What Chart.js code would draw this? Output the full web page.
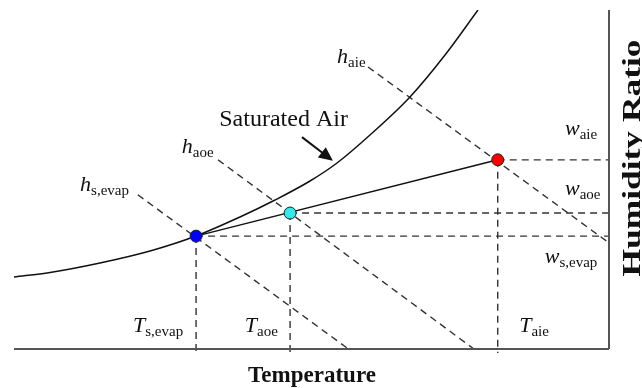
<!DOCTYPE html>
<html>
<head>
<meta charset="utf-8">
<script src="https://cdn.jsdelivr.net/npm/chart.js@4"></script>
<style>
    body { margin: 0; background: #fff; }
    canvas { display: block; }
</style>
</head>
<body>
<canvas id="psychro" width="642" height="388"></canvas>
<script>
// Psychrometric sketch: saturation curve, states, enthalpy lines

// Saturated air curve (temperature, humidity ratio) in chart units 0..100
const satTemp = [0, 6.05, 14.45, 22.86, 30.59, 37.98, 43.87, 49.75, 54.29, 59.83, 66.55, 72.44, 77.98];
const satHum  = [21.24, 22.57, 25.37, 28.91, 33.33, 38.94, 43.95, 49.56, 54.87, 63.13, 74.34, 86.73, 100];

// State points: evaporator surface, air outlet, air inlet
const stateNames = ['s,evap', 'aoe', 'aie'];
const stateTemp = [30.6, 46.4, 81.3];
const stateHum = [33.3, 40.1, 55.8];
const stateColors = ['#0000ff', '#33e8e8', '#ff0000'];

// Constant enthalpy lines (start, end)
const enthTemp = [[20.8, 56.2], [34.3, 77.3], [59.5, 100]];
const enthHum = [[45.5, 0], [55.8, 0], [83.2, 31.3]];

const T_MAX = 100;
const DASH = [7, 5];
const SERIF = '"Liberation Serif", "Times New Roman", serif';

function pts(xs, ys) {
    return xs.map((x, i) => ({ x: x, y: ys[i] }));
}

function dashed(data) {
    return {
        data: data,
        showLine: true,
        borderColor: '#333',
        borderWidth: 1.4,
        borderDash: DASH,
        pointRadius: 0,
        clip: 6,
        order: 3
    };
}

const datasets = [];

// state markers on top
datasets.push({
    data: pts(stateTemp, stateHum),
    pointRadius: 6,
    pointBackgroundColor: stateColors,
    pointBorderColor: '#222',
    pointBorderWidth: 1,
    showLine: false,
    order: 0
});

// saturation curve
datasets.push({
    data: pts(satTemp, satHum),
    showLine: true,
    borderColor: '#111',
    borderWidth: 1.5,
    pointRadius: 0,
    cubicInterpolationMode: 'monotone',
    order: 1
});

// process line from evaporator state to inlet state
datasets.push({
    data: [{ x: stateTemp[0], y: stateHum[0] }, { x: stateTemp[2], y: stateHum[2] }],
    showLine: true,
    borderColor: '#111',
    borderWidth: 1.5,
    pointRadius: 0,
    order: 1
});

// enthalpy lines
enthTemp.forEach((t, i) => datasets.push(dashed(pts(t, enthHum[i]))));

// drop lines (poke a little below the axis) and humidity lines
stateTemp.forEach((t, i) => {
    datasets.push(dashed([{ x: t, y: stateHum[i] }, { x: t, y: -1.2 }]));
    datasets.push(dashed([{ x: t, y: stateHum[i] }, { x: T_MAX, y: stateHum[i] }]));
});

// labels with subscripts, placed in chart units
const labels = [
    { main: 'h', sub: 'aie', x: 54.3, y: 84.4 },
    { main: 'h', sub: 'aoe', x: 28.2, y: 57.8 },
    { main: 'h', sub: 's,evap', x: 11.1, y: 46.6 },
    { main: 'w', sub: 'aie', x: 92.6, y: 63.1 },
    { main: 'w', sub: 'aoe', x: 92.6, y: 45.4 },
    { main: 'w', sub: 's,evap', x: 89.2, y: 25.4 },
    { main: 'T', sub: 's,evap', x: 20.0, y: 5.0 },
    { main: 'T', sub: 'aoe', x: 38.8, y: 5.0 },
    { main: 'T', sub: 'aie', x: 84.9, y: 5.0 }
];

const decorPlugin = {
    id: 'decor',
    afterDatasetsDraw(chart) {
        const ctx = chart.ctx;
        const a = chart.chartArea;
        const xs = chart.scales.x, ys = chart.scales.y;
        ctx.save();

        // axes: bottom and right only
        ctx.strokeStyle = '#555';
        ctx.lineWidth = 2;
        ctx.beginPath();
        ctx.moveTo(a.left, a.bottom);
        ctx.lineTo(a.right, a.bottom);
        ctx.moveTo(a.right, a.top);
        ctx.lineTo(a.right, a.bottom);
        ctx.stroke();

        ctx.fillStyle = '#111';
        ctx.textBaseline = 'alphabetic';
        ctx.textAlign = 'left';

        // subscripted labels
        labels.forEach(l => {
            const px = xs.getPixelForValue(l.x);
            const py = ys.getPixelForValue(l.y);
            ctx.font = 'italic 22px ' + SERIF;
            ctx.fillText(l.main, px, py);
            const w = ctx.measureText(l.main).width;
            ctx.font = '15px ' + SERIF;
            ctx.fillText(l.sub, px + w, py + 4);
        });

        // Saturated Air label and arrow
        ctx.font = '24px ' + SERIF;
        ctx.fillText('Saturated Air', xs.getPixelForValue(34.5), ys.getPixelForValue(65.8));
        const x0 = xs.getPixelForValue(48.4), y0 = ys.getPixelForValue(62.5);
        const x1 = xs.getPixelForValue(53.6), y1 = ys.getPixelForValue(55.5);
        const ang = Math.atan2(y1 - y0, x1 - x0);
        ctx.strokeStyle = '#111';
        ctx.lineWidth = 2;
        ctx.beginPath();
        ctx.moveTo(x0, y0);
        ctx.lineTo(x1 - 8 * Math.cos(ang), y1 - 8 * Math.sin(ang));
        ctx.stroke();
        ctx.beginPath();
        ctx.moveTo(x1, y1);
        ctx.lineTo(x1 - 14 * Math.cos(ang) + 6.5 * Math.sin(ang), y1 - 14 * Math.sin(ang) - 6.5 * Math.cos(ang));
        ctx.lineTo(x1 - 14 * Math.cos(ang) - 6.5 * Math.sin(ang), y1 - 14 * Math.sin(ang) + 6.5 * Math.cos(ang));
        ctx.closePath();
        ctx.fill();

        // axis titles
        ctx.font = 'bold 23px ' + SERIF;
        ctx.textAlign = 'center';
        ctx.fillText('Temperature', 312, 382);

        ctx.font = 'bold 26px ' + SERIF;
        const tw = ctx.measureText('Humidity Ratio').width;
        ctx.translate(640, 158);
        ctx.rotate(-Math.PI / 2);
        ctx.scale(237 / tw, 1);
        ctx.fillText('Humidity Ratio', 0, 0);
        ctx.restore();
    }
};

new Chart(document.getElementById('psychro'), {
    type: 'scatter',
    data: { datasets: datasets },
    options: {
        responsive: false,
        animation: false,
        devicePixelRatio: 1,
        layout: { padding: { left: 14, right: 33, top: 10, bottom: 39 } },
        plugins: { legend: { display: false }, tooltip: { enabled: false } },
        scales: {
            x: { type: 'linear', min: 0, max: T_MAX, display: false },
            y: { type: 'linear', min: 0, max: 100, display: false }
        }
    },
    plugins: [decorPlugin]
});
</script>
</body>
</html>
